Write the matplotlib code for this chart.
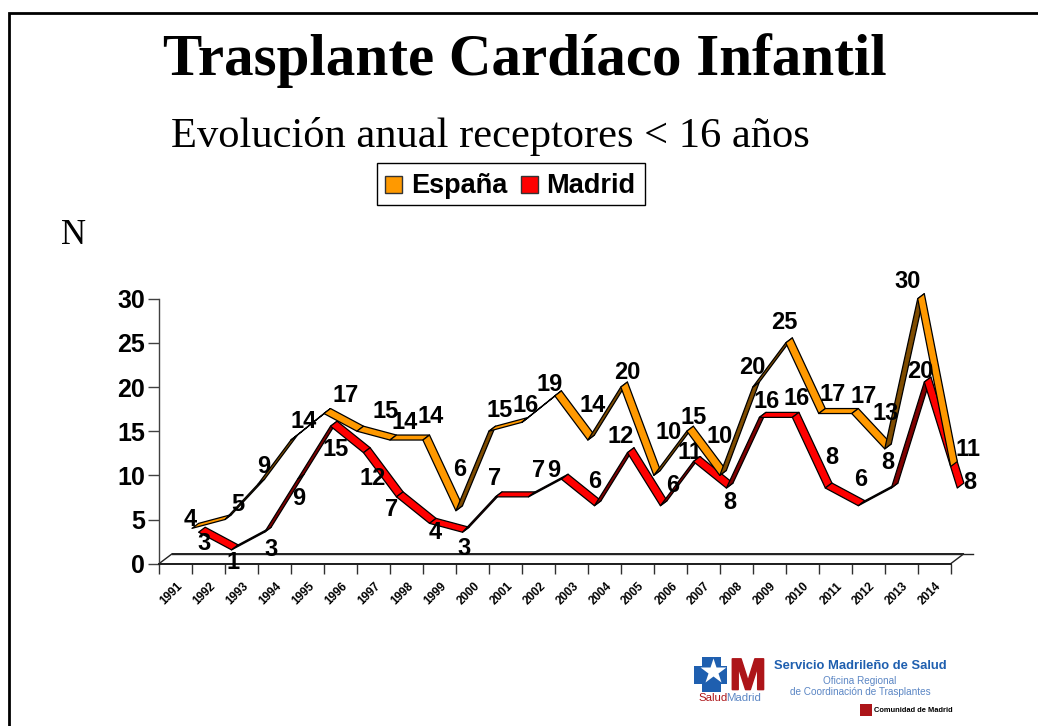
import matplotlib
matplotlib.use("Agg")
import matplotlib.pyplot as plt
import matplotlib.patheffects as pe
from matplotlib.patches import Polygon, Rectangle
import numpy as np

years = list(range(1991, 2015))
espana = [4, 5, 9, 14, 17, 15, 14, 14, 6, 15, 16, 19, 14, 20, 10, 15, 10, 20, 25, 17, 17, 13, 30, 11]
madrid = [3, 1, 3, 9, 15, 12, 7, 4, 3, 7, 7, 9, 6, 12, 6, 11, 8, 16, 16, 8, 6, 8, 20, 8]

# label offsets from the front edge of each point, in pixels (right, up)
espana_off = [(-2, 9), (13, 15), (6, 18), (13, 19), (22, 18), (29, 20), (15, 18), (8, 24),
              (4, 41), (11, 21), (4, 17), (-5, 11), (5, 35), (6, 15), (15, 43), (7, 14),
              (0, 39), (0, 20), (-1, 20), (14, 19), (12, 17), (1, 35), (-10, 17), (17, 17)]
madrid_off = [(12, -6), (8, -8), (13, -12), (8, -14), (12, -18), (16, -21), (2, -8), (12, -4),
              (8, -11), (6, 23), (17, 31), (-1, 14), (7, 29), (0, 21), (19, 25), (3, 14),
              (10, -9), (14, 21), (11, 24), (13, 36), (9, 31), (3, 31), (3, 16), (19, 11)]

W, H = 1038, 726
DEPTH_X = 0.40   # floor depth in x units
DEPTH_Y = 1.13   # floor depth in y units
SANS = "Liberation Sans"
SERIF = "Liberation Serif"


def px(x, y):
    return x / W, 1 - y / H


def ribbon(ax, values, d0, d1, bright, dark, z):
    for i in range(len(values) - 1):
        v0, v1 = values[i], values[i + 1]
        quad = [(i + 1 + d0 * DEPTH_X, v0 + d0 * DEPTH_Y),
                (i + 2 + d0 * DEPTH_X, v1 + d0 * DEPTH_Y),
                (i + 2 + d1 * DEPTH_X, v1 + d1 * DEPTH_Y),
                (i + 1 + d1 * DEPTH_X, v0 + d1 * DEPTH_Y)]
        color = dark if v1 - v0 >= 2 else bright
        ax.add_patch(Polygon(quad, closed=True, facecolor=color, edgecolor="black",
                             linewidth=0.9, joinstyle="round", zorder=z + i * 0.001, clip_on=False))


fig = plt.figure(figsize=(W / 100, H / 100), dpi=100, facecolor="white")

# page frame
bg = fig.add_axes([0, 0, 1, 1])
bg.set_xlim(0, W)
bg.set_ylim(H, 0)
bg.axis("off")
bg.plot([9, 9, W], [H, 12.5, 12.5], color="black", lw=2, solid_joinstyle="miter")

fig.text(*px(524.5, 61), "Trasplante Cardíaco Infantil", family=SERIF, weight="bold", fontsize=42.5,
         ha="center", va="center")
fig.text(*px(490, 137), "Evolución anual receptores < 16 años", family=SERIF, fontsize=30.6,
         ha="center", va="center")
fig.text(*px(73, 236), "N", family=SERIF, fontsize=25, ha="center", va="center")

# legend
bg.add_patch(Rectangle((376.5, 162.5), 268, 42, facecolor="white", edgecolor="black", lw=1))
bg.add_patch(Rectangle((385, 176), 17, 17, facecolor="#FF9900", edgecolor="#333333", lw=1))
bg.add_patch(Rectangle((520.5, 176), 17, 17, facecolor="#FF0000", edgecolor="#333333", lw=1))
fig.text(*px(411.5, 186), "España", family=SANS, weight="bold", fontsize=19.5, ha="left", va="center")
fig.text(*px(546.5, 186), "Madrid", family=SANS, weight="bold", fontsize=19.5, ha="left", va="center")

# chart
left, right, top, bottom = 159, 950.7, 298.7, 563.7
ax = fig.add_axes([left / W, 1 - bottom / H, (right - left) / W, (bottom - top) / H])
ax.patch.set_alpha(0)
ax.set_xlim(0, 24)
ax.set_ylim(0, 30)
for s in ["top", "right"]:
    ax.spines[s].set_visible(False)
ax.spines["left"].set_color("#404040")
ax.spines["left"].set_linewidth(1)
ax.spines["bottom"].set_color("#202020")
ax.spines["bottom"].set_linewidth(1.4)
ax.set_yticks(range(0, 31, 5))
ax.set_xticks(range(25))
ax.set_xticklabels([])
ax.tick_params(axis="y", length=8, width=1, color="#404040", pad=2, labelsize=18)
ax.tick_params(axis="x", length=7, width=1, color="#303030")
for t in ax.get_yticklabels():
    t.set_family(SANS)
    t.set_weight("bold")

# floor
ax.add_patch(Polygon([(0, 0), (DEPTH_X, DEPTH_Y), (24 + DEPTH_X, DEPTH_Y), (24, 0)], closed=True,
                     facecolor="white", edgecolor="#222222", lw=1, zorder=1, clip_on=False))
ax.plot([DEPTH_X, 24 + DEPTH_X + 0.27], [DEPTH_Y, DEPTH_Y], color="#222222", lw=1, clip_on=False, zorder=1)

ribbon(ax, madrid, 0.5, 1.0, "#FF0000", "#800000", 2)
ribbon(ax, espana, 0.0, 0.5, "#FF9900", "#7F4C00", 3)

for i, y in enumerate(years):
    ax.annotate(str(y), (i + 0.5, 0), xytext=(-2.9, -21.5), textcoords="offset points", rotation=45,
                family=SANS, weight="bold", fontsize=8.5, ha="center", va="center", annotation_clip=False)

for values, offs in [(espana, espana_off), (madrid, madrid_off)]:
    for i, v in enumerate(values):
        # the 2006 Madrid label sits under the ribbons in the original
        z = 1.5 if values is madrid and i == 15 else 5
        ax.annotate(str(v), (i + 1, v), xytext=(offs[i][0] * 0.72, offs[i][1] * 0.72),
                    textcoords="offset points", family=SANS, weight="bold", fontsize=17,
                    ha="center", va="center", annotation_clip=False, zorder=z)

# logo
blue = "#1F5FAF"
light = "#5B86C4"
dark_red = "#AD1519"
cross = [(702, 657), (721, 657), (721, 666), (727, 666), (727, 684), (721, 684), (721, 692),
         (702, 692), (702, 684), (694, 684), (694, 666), (702, 666)]
bg.add_patch(Polygon(cross, closed=True, facecolor=blue, edgecolor="none"))
bg.plot([713], [671], marker="*", ms=19, color="white", mec="none")
fig.text(*px(748, 678), "M", family=SANS, weight="bold", fontsize=32, color=dark_red, ha="center", va="center",
         path_effects=[pe.withStroke(linewidth=1.2, foreground=dark_red)])
fig.text(*px(698, 698), "Salud", family=SANS, fontsize=8.2, color=dark_red, ha="left", va="center")
fig.text(*px(726, 698), "Madrid", family=SANS, fontsize=8.2, color=light, ha="left", va="center")
fig.text(*px(860, 666), "Servicio Madrileño de Salud", family=SANS, weight="bold", fontsize=9.4,
         color=blue, ha="center", va="center")
fig.text(*px(860, 681), "Oficina Regional", family=SANS, fontsize=7.2, color=light, ha="center", va="center")
fig.text(*px(860, 692), "de Coordinación de Trasplantes", family=SANS, fontsize=7.2, color=light,
         ha="center", va="center")
bg.add_patch(Rectangle((860, 703.5), 12, 12.5, facecolor=dark_red, edgecolor="none"))
fig.text(*px(874, 710), "Comunidad de Madrid", family=SANS, weight="bold", fontsize=5.4, ha="left", va="center")

fig.savefig("out.png", dpi=100)
